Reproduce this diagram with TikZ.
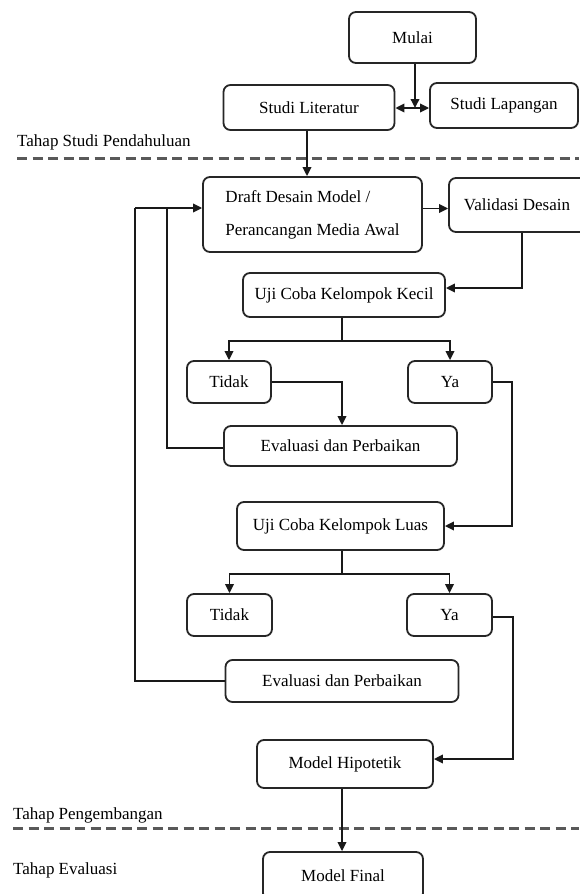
\documentclass[tikz,border=0pt]{standalone}
\usepackage{fontspec}
\setmainfont{Liberation Serif}
\usetikzlibrary{arrows.meta,calc}
\tikzset{
  box/.style={draw=black!85, line width=1.8pt, rounded corners=7pt, inner sep=0pt,
    font=\fontsize{17}{20}\selectfont, text=black, fill=white},
  conn/.style={draw=black!90, line width=1.8pt},
  arr/.style={conn, -{Triangle[length=9pt,width=8.5pt]}},
  darr/.style={conn, {Triangle[length=9pt,width=8.5pt]}-{Triangle[length=9pt,width=8.5pt]}},
  phase/.style={anchor=west, inner sep=0pt, font=\fontsize{17}{20}\selectfont, text=black},
  sep/.style={draw=black!65, line width=3pt, dash pattern=on 10pt off 5.5pt}
}
\begin{document}
\begin{tikzpicture}[x=1pt,y=-1pt]
\useasboundingbox[fill=white] (0,0) rectangle (579,894);

% phase separators and labels
\node[phase] (p1) at (17,142) {Tahap Studi Pendahuluan};
\node[phase] (p2) at (13,815) {Tahap Pengembangan};
\node[phase] (p3) at (13,870) {Tahap Evaluasi};
\coordinate (s1a) at (17,158); \coordinate (s1b) at (579,158);
\coordinate (s2a) at (13,828); \coordinate (s2b) at (579,828);
\draw[sep] (s1a) -- (s1b);
\draw[sep] (s2a) -- (s2b);

% nodes
\node[box, minimum width=127pt, minimum height=51pt] (mulai) at (412.5,37.5) {Mulai};
\node[box, minimum width=171pt, minimum height=45pt] (lit) at (309,107.5) {Studi Literatur};
\node[box, minimum width=148pt, minimum height=45pt] (lap) at (504,105.5) {Studi Lapangan};
\node[box, minimum width=219pt, minimum height=75pt, align=left,
      font=\fontsize{17}{33}\selectfont] (draft) at (312.5,214.5)
      {Draft Desain Model /\\Perancangan Media Awal};
\node[box, minimum width=146pt, minimum height=54pt] (val) at (522,205) {\hspace*{-10pt}Validasi Desain};
\node[box, minimum width=202pt, minimum height=44pt] (ujik) at (344,295) {Uji Coba Kelompok Kecil};
\node[box, minimum width=84pt, minimum height=42pt] (t1) at (229,382) {Tidak};
\node[box, minimum width=84pt, minimum height=42pt] (y1) at (450,382) {Ya};
\node[box, minimum width=233pt, minimum height=40pt] (e1) at (340.5,446) {Evaluasi dan Perbaikan};
\node[box, minimum width=207pt, minimum height=48pt] (ujil) at (340.5,526) {Uji Coba Kelompok Luas};
\node[box, minimum width=85pt, minimum height=42pt] (t2) at (229.5,615) {Tidak};
\node[box, minimum width=85pt, minimum height=42pt] (y2) at (449.5,615) {Ya};
\node[box, minimum width=233pt, minimum height=42pt] (e2) at (342,681) {Evaluasi dan Perbaikan};
\node[box, minimum width=176pt, minimum height=48pt] (hip) at (345,764) {Model Hipotetik};
\node[box, minimum width=160pt, minimum height=48pt] (fin) at (343,876) {Model Final};

% helper coordinates
\coordinate (j0) at (415,108);
\coordinate (jk) at (342,341);
\coordinate (jl) at (342,574);
\coordinate (fbin) at (135,208);
\coordinate (fb1) at (167,208);
\coordinate (r1) at (512,382);
\coordinate (r2) at (513,617);

% connectors
\draw[arr] (j0 |- mulai.south) -- (j0);
\draw[darr] (lit.east |- j0) -- (lap.west |- j0);
\draw[arr] ([xshift=-2pt]lit.south) -- ([xshift=-2pt]lit.south |- draft.north);
\draw[arr] ([yshift=6pt]draft.east) -- ([yshift=6pt]draft.east -| val.west);
\draw[arr] (val.south) |- ([yshift=7pt]ujik.east);
\draw[conn] (jk |- ujik.south) -- (jk);
\draw[arr] (jk) -| (t1.north);
\draw[arr] (jk) -| (y1.north);
\draw[arr] (t1.east) -| (jk |- e1.north);
\draw[conn] ([yshift=-2pt]e1.west) -| (fb1);
\draw[arr] (fbin) -- (fbin -| draft.west);
\draw[arr] (y1.east) -- (r1) |- (ujil.east);
\draw[conn] (jl |- ujil.south) -- (jl);
\draw[arr] (jl) -| (t2.north);
\draw[arr] (jl) -| (y2.north);
\draw[conn] (e2.west) -| (fbin);
\draw[arr] ([yshift=-2pt]y2.east) -- (r2) |- ([yshift=5pt]hip.east);
\draw[arr] ([xshift=-3pt]hip.south) -- ([xshift=-3pt]hip.south |- fin.north);
\end{tikzpicture}
\end{document}
